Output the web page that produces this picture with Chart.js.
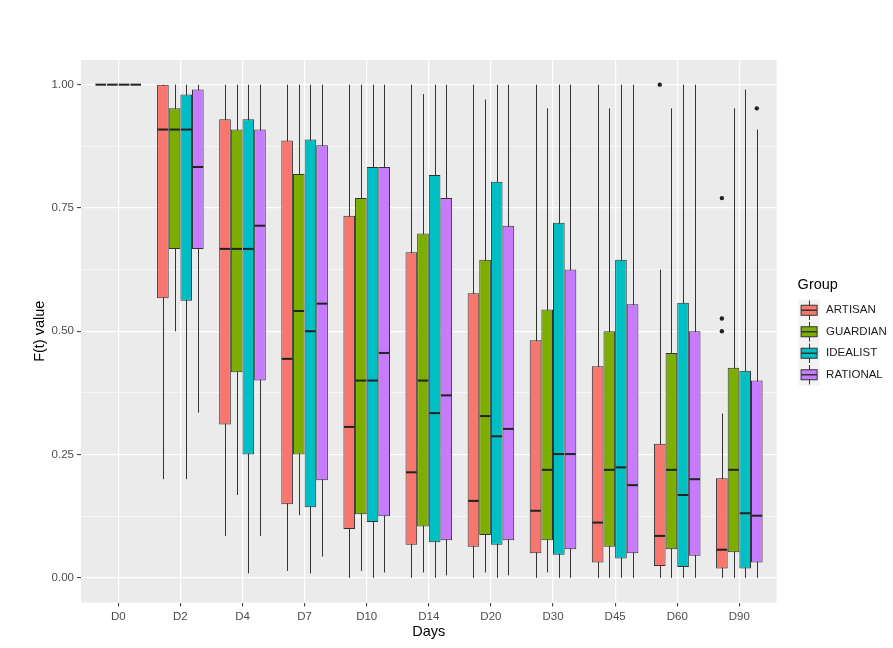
<!DOCTYPE html>
<html lang="en">

<head>
    <meta charset="UTF-8">
    <title>F(t) value by Days and Group</title>
    <script src="https://cdn.jsdelivr.net/npm/chart.js"></script>
    <style>
        body {
            margin: 0;
            background: #fff;
        }

        #wrap {
            width: 893px;
            height: 648px;
        }
    </style>
</head>

<body>
    <div id="wrap"><canvas id="boxChart"></canvas></div>

    <script>
        // categories and groups
        const days = ["D0", "D2", "D4", "D7", "D10", "D14", "D20", "D30", "D45", "D60", "D90"];
        const groups = ["ARTISAN", "GUARDIAN", "IDEALIST", "RATIONAL"];
        const groupColors = ["#F8766D", "#7CAE00", "#00BFC4", "#C77CFF"];
        const yTicks = [0, 0.125, 0.25, 0.375, 0.5, 0.625, 0.75, 0.875, 1];

        // box stats (lower whisker, q1, median, q3, upper whisker)
        const artisanLow = [1, 0.20, 0.085, 0.014, 0, 0, 0, 0, 0, 0, 0];
        const artisanQ1 = [1, 0.567, 0.311, 0.149, 0.099, 0.067, 0.063, 0.050, 0.031, 0.024, 0.019];
        const artisanMed = [1, 0.909, 0.667, 0.444, 0.306, 0.214, 0.156, 0.136, 0.112, 0.085, 0.057];
        const artisanQ3 = [1, 1.0, 0.930, 0.887, 0.734, 0.660, 0.577, 0.482, 0.429, 0.272, 0.202];
        const artisanHigh = [1, 1, 1, 1, 1, 1, 1, 1, 1, 0.625, 0.333];
        const artisanOut = [[], [], [], [], [], [], [], [], [], [1.0], [0.770, 0.526, 0.500]];

        const guardianLow = [1, 0.50, 0.168, 0.127, 0.014, 0.011, 0.011, 0.011, 0, 0, 0];
        const guardianQ1 = [1, 0.667, 0.417, 0.25, 0.129, 0.104, 0.087, 0.076, 0.063, 0.058, 0.052];
        const guardianMed = [1, 0.909, 0.667, 0.541, 0.40, 0.40, 0.328, 0.219, 0.219, 0.219, 0.219];
        const guardianQ3 = [1, 0.952, 0.909, 0.819, 0.770, 0.698, 0.645, 0.544, 0.50, 0.456, 0.426];
        const guardianHigh = [1, 1, 1, 1, 1, 0.981, 0.970, 0.952, 0.952, 0.952, 0.952];
        const guardianOut = [[], [], [], [], [], [], [], [], [], [], []];

        const idealistLow = [1, 0.20, 0.009, 0.009, 0, 0, 0, 0, 0, 0, 0];
        const idealistQ1 = [1, 0.562, 0.25, 0.143, 0.113, 0.072, 0.067, 0.047, 0.039, 0.022, 0.019];
        const idealistMed = [1, 0.909, 0.667, 0.50, 0.40, 0.334, 0.287, 0.251, 0.224, 0.168, 0.131];
        const idealistQ3 = [1, 0.980, 0.930, 0.889, 0.833, 0.817, 0.803, 0.72, 0.645, 0.558, 0.42];
        const idealistHigh = [1, 1, 1, 1, 1, 1, 1, 1, 1, 1, 0.990];
        const idealistOut = [[], [], [], [], [], [], [], [], [], [], []];

        const rationalLow = [1, 0.335, 0.085, 0.043, 0.011, 0.005, 0.005, 0, 0, 0, 0];
        const rationalQ1 = [1, 0.667, 0.40, 0.198, 0.125, 0.076, 0.076, 0.058, 0.050, 0.045, 0.031];
        const rationalMed = [1, 0.833, 0.714, 0.556, 0.456, 0.370, 0.302, 0.251, 0.188, 0.20, 0.126];
        const rationalQ3 = [1, 0.990, 0.909, 0.877, 0.833, 0.770, 0.714, 0.625, 0.555, 0.50, 0.40];
        const rationalHigh = [1, 1, 1, 1, 1, 1, 1, 1, 1, 1, 0.909];
        const rationalOut = [[], [], [], [], [], [], [], [], [], [], [0.952]];

        const lows = [artisanLow, guardianLow, idealistLow, rationalLow];
        const q1s = [artisanQ1, guardianQ1, idealistQ1, rationalQ1];
        const medians = [artisanMed, guardianMed, idealistMed, rationalMed];
        const q3s = [artisanQ3, guardianQ3, idealistQ3, rationalQ3];
        const highs = [artisanHigh, guardianHigh, idealistHigh, rationalHigh];
        const outliers = [artisanOut, guardianOut, idealistOut, rationalOut];

        const FONT = "'Liberation Sans', Arial, sans-serif";
        const DARK = "#333333";

        // grey panel behind the grid
        const panelBackground = {
            id: "panelBackground",
            beforeDraw(chart) {
                const { ctx, chartArea: a } = chart;
                ctx.save();
                ctx.fillStyle = "#EBEBEB";
                ctx.fillRect(a.left, a.top, a.right - a.left, a.bottom - a.top);
                ctx.restore();
            }
        };

        // whiskers behind the boxes, medians + outliers on top
        const boxParts = {
            id: "boxParts",
            beforeDatasetsDraw(chart) {
                const ctx = chart.ctx;
                const y = chart.scales.y;
                ctx.save();
                ctx.strokeStyle = DARK;
                ctx.lineWidth = 1;
                groups.forEach((g, i) => {
                    chart.getDatasetMeta(i).data.forEach((bar, j) => {
                        const x = Math.round(bar.x) + 0.5;
                        ctx.beginPath();
                        ctx.moveTo(x, y.getPixelForValue(lows[i][j]));
                        ctx.lineTo(x, y.getPixelForValue(highs[i][j]));
                        ctx.stroke();
                    });
                });
                ctx.restore();
            },
            afterDatasetsDraw(chart) {
                const ctx = chart.ctx;
                const y = chart.scales.y;
                ctx.save();
                groups.forEach((g, i) => {
                    chart.getDatasetMeta(i).data.forEach((bar, j) => {
                        const half = bar.width / 2;
                        const ym = y.getPixelForValue(medians[i][j]);
                        ctx.strokeStyle = "#222";
                        ctx.lineWidth = 2;
                        ctx.beginPath();
                        ctx.moveTo(bar.x - half + 0.5, ym);
                        ctx.lineTo(bar.x + half - 0.5, ym);
                        ctx.stroke();
                        ctx.fillStyle = "#222";
                        outliers[i][j].forEach(v => {
                            ctx.beginPath();
                            ctx.arc(bar.x, y.getPixelForValue(v), 2.2, 0, Math.PI * 2);
                            ctx.fill();
                        });
                    });
                });
                ctx.restore();
            }
        };

        // ggplot-like legend with boxplot keys
        const groupLegend = {
            id: "groupLegend",
            afterDraw(chart) {
                const ctx = chart.ctx;
                const left = chart.chartArea.right + 22;
                const top = 299.5;
                const keyW = 21, keyH = 21.5;
                ctx.save();
                ctx.fillStyle = "#000";
                ctx.font = "14.5px " + FONT;
                ctx.textBaseline = "middle";
                ctx.textAlign = "left";
                ctx.fillText("Group", left - 1, 285);
                chart.data.datasets.forEach((ds, i) => {
                    const ky = top + i * keyH;
                    const cx = Math.round(left + keyW / 2) + 0.5;
                    const cy = ky + keyH / 2;
                    ctx.fillStyle = "#F2F2F2";
                    ctx.fillRect(left, ky, keyW, keyH);
                    ctx.strokeStyle = DARK;
                    ctx.lineWidth = 1;
                    ctx.beginPath();
                    ctx.moveTo(cx, ky + 1);
                    ctx.lineTo(cx, ky + keyH - 1);
                    ctx.stroke();
                    ctx.fillStyle = ds.backgroundColor;
                    ctx.fillRect(left + 2.5, cy - 5, keyW - 5, 10);
                    ctx.strokeRect(left + 2.5, cy - 5, keyW - 5, 10);
                    ctx.lineWidth = 1.5;
                    ctx.beginPath();
                    ctx.moveTo(left + 2.5, cy);
                    ctx.lineTo(left + keyW - 2.5, cy);
                    ctx.stroke();
                    ctx.fillStyle = "#1A1A1A";
                    ctx.font = "11.5px " + FONT;
                    ctx.fillText(ds.label, left + keyW + 6.5, cy);
                });
                ctx.restore();
            }
        };

        const datasets = groups.map((g, i) => ({
            label: g,
            data: days.map((d, j) => ({ x: j + 1, y: [q1s[i][j], q3s[i][j]] })),
            backgroundColor: groupColors[i],
            borderColor: DARK,
            borderWidth: 1,
            borderSkipped: false
        }));

        const isMajorY = v => Math.abs(v * 4 - Math.round(v * 4)) < 1e-6;

        new Chart(document.getElementById("boxChart"), {
            type: "bar",
            data: { datasets: datasets },
            plugins: [panelBackground, boxParts, groupLegend],
            options: {
                responsive: true,
                maintainAspectRatio: false,
                animation: false,
                layout: { padding: { top: 60, right: 116.4, bottom: 0, left: 0 } },
                datasets: { bar: { categoryPercentage: 0.75, barPercentage: 1 } },
                plugins: {
                    legend: { display: false },
                    tooltip: { enabled: false }
                },
                scales: {
                    x: {
                        type: "linear",
                        min: 0.4,
                        max: 11.6,
                        offset: false,
                        afterBuildTicks: scale => {
                            scale.ticks = days.map((d, j) => ({ value: j + 1 }));
                        },
                        afterFit: scale => { scale.height = 45.5; },
                        ticks: {
                            autoSkip: false,
                            maxRotation: 0,
                            padding: 3,
                            color: "#4D4D4D",
                            font: { family: FONT, size: 11.5 },
                            callback: value => days[Math.round(value) - 1]
                        },
                        grid: {
                            offset: false,
                            color: "#FFFFFF",
                            lineWidth: 1.2,
                            tickLength: 4,
                            tickColor: DARK,
                            tickWidth: 1
                        },
                        border: { display: false },
                        title: {
                            display: true,
                            text: "Days",
                            color: "#000",
                            font: { family: FONT, size: 14.5 },
                            padding: { top: 0, bottom: 7 }
                        }
                    },
                    y: {
                        min: -0.05,
                        max: 1.05,
                        afterBuildTicks: scale => {
                            scale.ticks = yTicks.map(v => ({ value: v }));
                        },
                        afterFit: scale => { scale.width = 81; },
                        ticks: {
                            autoSkip: false,
                            padding: 3,
                            color: "#4D4D4D",
                            font: { family: FONT, size: 11.5 },
                            callback: value => isMajorY(value) ? value.toFixed(2) : ""
                        },
                        grid: {
                            color: "#FFFFFF",
                            lineWidth: ctx => ctx.tick && isMajorY(ctx.tick.value) ? 1.2 : 0.6,
                            tickLength: 4,
                            tickColor: ctx => ctx.tick && isMajorY(ctx.tick.value) ? DARK : "rgba(0,0,0,0)",
                            tickWidth: 1
                        },
                        border: { display: false },
                        title: {
                            display: true,
                            text: "F(t) value",
                            color: "#000",
                            font: { family: FONT, size: 14.5 },
                            padding: { top: 31, bottom: 0 }
                        }
                    }
                }
            }
        });
    </script>
</body>

</html>
